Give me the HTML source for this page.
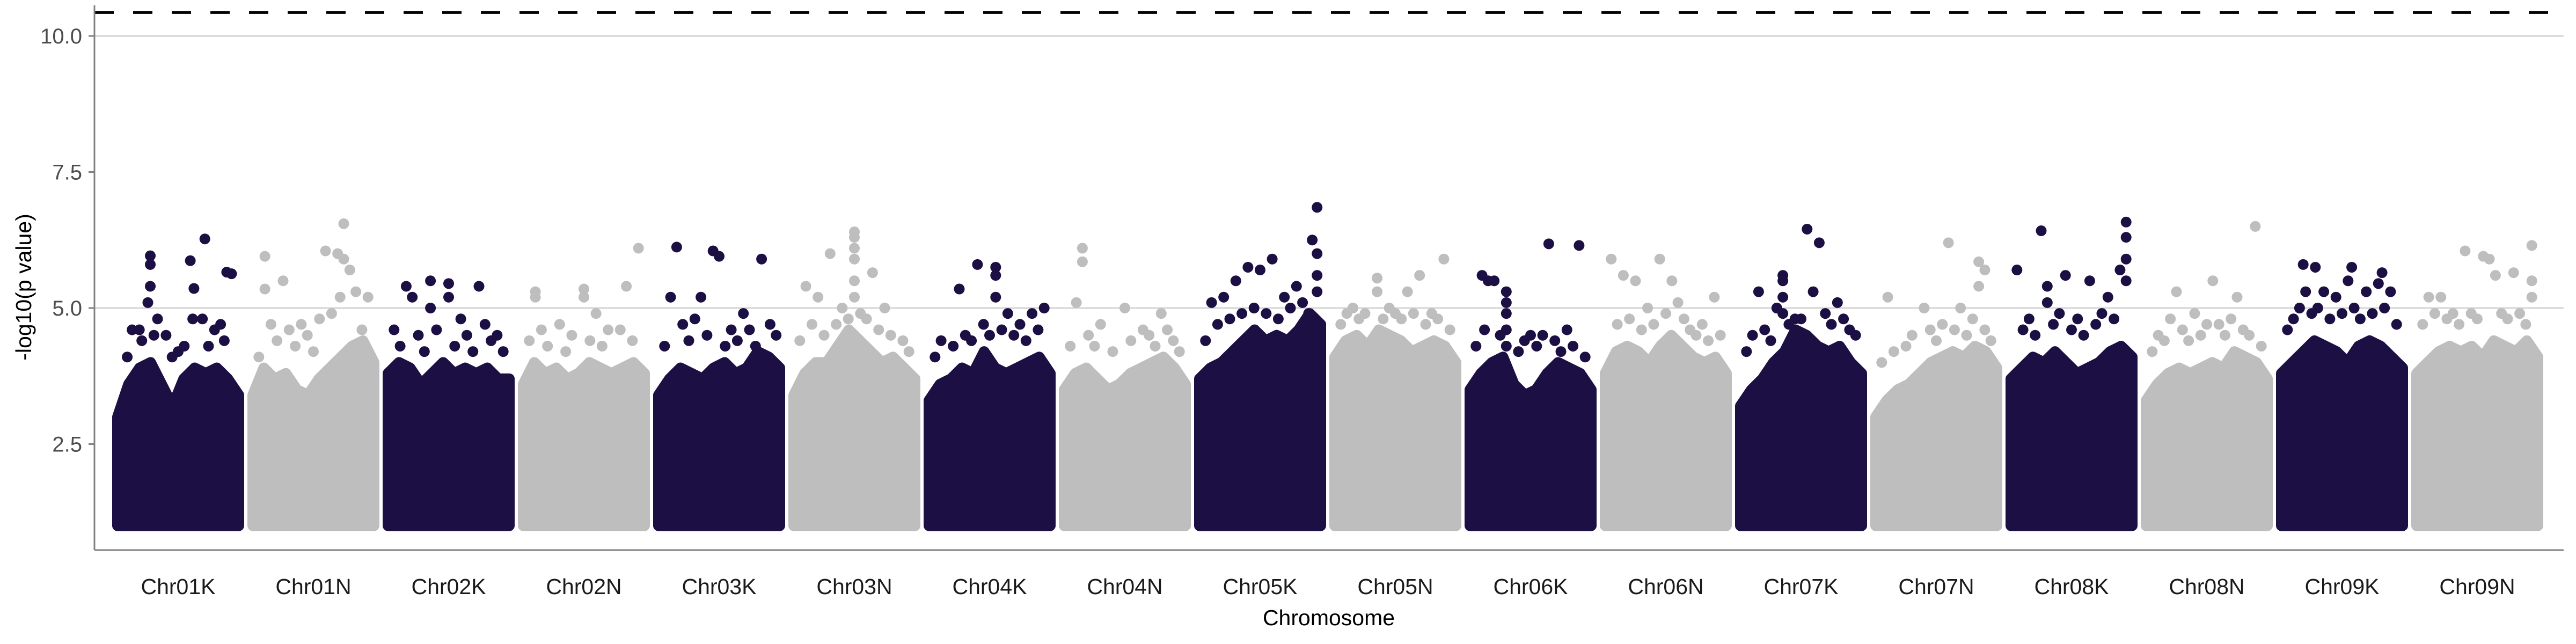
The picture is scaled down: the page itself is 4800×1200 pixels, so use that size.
<!DOCTYPE html>
<html><head><meta charset="utf-8"><title>Manhattan plot</title>
<style>
html,body{margin:0;padding:0;background:#fff;}
svg{display:block;font-family:"Liberation Sans",sans-serif;}
</style></head>
<body>
<svg id="chart" width="4800" height="1200" viewBox="0 0 4800 1200" xmlns="http://www.w3.org/2000/svg">
  <g id="grid"></g>
  <g id="bodies"></g>
  <g id="peaks"></g>
  <g id="axes"></g>
  <text x="2476" y="1165" font-size="41" fill="#000" text-anchor="middle">Chromosome</text>
  <text transform="translate(58,535) rotate(-90)" font-size="41" fill="#000" text-anchor="middle">-log10(p value)</text>
</svg>
<script>
const categories = ["Chr01K","Chr01N","Chr02K","Chr02N","Chr03K","Chr03N","Chr04K","Chr04N","Chr05K","Chr05N","Chr06K","Chr06N","Chr07K","Chr07N","Chr08K","Chr08N","Chr09K","Chr09N"];
const yTicks = [2.5, 5.0, 7.5, 10.0];
const yTickLabels = ["2.5","5.0","7.5","10.0"];
const gridValues = [5.0, 10.0];
const thresholdValue = 10.43;
const minValue = 1.0;
// dense body upper envelopes (12 bins per chromosome)
const envelopes = [
 [3.0,3.6,3.9,4.0,3.6,3.2,3.7,3.9,3.8,3.9,3.7,3.4],
 [3.4,3.9,3.7,3.8,3.5,3.4,3.7,3.9,4.1,4.3,4.4,4.0],
 [3.8,4.0,3.9,3.6,3.8,4.0,3.8,3.9,3.8,3.9,3.7,3.7],
 [3.6,4.0,3.8,3.9,3.7,3.8,4.0,3.9,3.8,3.9,4.0,3.8],
 [3.4,3.7,3.9,3.8,3.7,3.9,4.0,3.8,3.9,4.2,4.1,3.9],
 [3.4,3.8,4.0,4.0,4.3,4.6,4.4,4.2,4.0,4.1,3.9,3.7],
 [3.3,3.6,3.7,3.9,3.8,4.2,3.9,3.8,3.9,4.0,4.1,3.8],
 [3.5,3.8,3.9,3.7,3.5,3.6,3.8,3.9,4.0,4.1,3.9,3.6],
 [3.7,3.9,4.0,4.2,4.4,4.6,4.4,4.5,4.4,4.6,4.9,4.7],
 [4.1,4.4,4.5,4.3,4.6,4.5,4.4,4.2,4.3,4.4,4.3,4.0],
 [3.5,3.8,4.0,4.1,3.6,3.4,3.5,3.8,4.0,3.9,3.8,3.5],
 [3.8,4.2,4.3,4.2,4.0,4.3,4.5,4.3,4.1,4.0,4.1,3.8],
 [3.2,3.5,3.7,4.0,4.2,4.6,4.5,4.3,4.2,4.3,4.0,3.8],
 [3.0,3.3,3.5,3.6,3.8,4.0,4.1,4.2,4.1,4.3,4.2,3.9],
 [3.7,3.9,4.1,4.0,4.2,4.0,3.8,3.9,4.0,4.2,4.3,4.1],
 [3.3,3.6,3.8,3.9,3.8,3.9,4.0,3.9,4.2,4.1,4.0,3.7],
 [3.8,4.0,4.2,4.4,4.3,4.2,4.0,4.3,4.4,4.3,4.1,3.9],
 [3.8,4.0,4.2,4.3,4.2,4.3,4.1,4.4,4.3,4.2,4.4,4.1]
];
// top SNPs: [relative position within chromosome, -log10 p]
const peaks = [
 [[0.27,5.96],[0.27,5.8],[0.27,5.4],[0.25,5.1],[0.33,4.8],[0.12,4.6],[0.72,6.27],[0.6,5.87],[0.63,5.36],[0.9,5.66],[0.94,5.63],[0.7,4.8],[0.8,4.6],[0.5,4.2],[0.2,4.4],[0.4,4.5],[0.08,4.1],[0.18,4.6],[0.3,4.5],[0.55,4.3],[0.62,4.8],[0.85,4.7],[0.88,4.4],[0.45,4.1],[0.75,4.3]],
 [[0.1,5.95],[0.1,5.35],[0.25,5.5],[0.6,6.05],[0.75,6.55],[0.75,5.9],[0.8,5.7],[0.85,5.3],[0.4,4.7],[0.7,6.0],[0.95,5.2],[0.3,4.6],[0.55,4.8],[0.05,4.1],[0.15,4.7],[0.2,4.4],[0.35,4.3],[0.45,4.5],[0.65,4.9],[0.72,5.2],[0.9,4.6],[0.5,4.2]],
 [[0.15,5.4],[0.35,5.5],[0.5,5.45],[0.5,5.2],[0.75,5.4],[0.35,5.0],[0.6,4.8],[0.9,4.5],[0.2,5.2],[0.05,4.6],[0.8,4.7],[0.1,4.3],[0.25,4.5],[0.4,4.6],[0.55,4.3],[0.65,4.5],[0.7,4.2],[0.85,4.4],[0.95,4.2],[0.3,4.2]],
 [[0.1,5.3],[0.1,5.2],[0.5,5.35],[0.5,5.2],[0.95,6.1],[0.85,5.4],[0.6,4.9],[0.3,4.7],[0.7,4.6],[0.05,4.4],[0.15,4.6],[0.2,4.3],[0.4,4.5],[0.55,4.4],[0.65,4.3],[0.8,4.6],[0.9,4.4],[0.35,4.2]],
 [[0.15,6.12],[0.35,5.2],[0.45,6.05],[0.5,5.95],[0.85,5.9],[0.1,5.2],[0.7,4.9],[0.3,4.8],[0.6,4.6],[0.2,4.7],[0.05,4.3],[0.25,4.4],[0.4,4.5],[0.55,4.3],[0.65,4.4],[0.75,4.6],[0.8,4.3],[0.92,4.7],[0.97,4.5]],
 [[0.3,6.0],[0.5,6.4],[0.5,6.3],[0.5,6.1],[0.5,5.9],[0.65,5.65],[0.1,5.4],[0.4,5.0],[0.75,5.0],[0.2,5.2],[0.5,5.5],[0.5,5.2],[0.05,4.4],[0.15,4.7],[0.25,4.5],[0.35,4.7],[0.45,4.8],[0.55,4.9],[0.6,4.8],[0.7,4.6],[0.8,4.5],[0.9,4.4],[0.95,4.2]],
 [[0.4,5.8],[0.55,5.75],[0.55,5.6],[0.25,5.35],[0.95,5.0],[0.65,4.9],[0.85,4.9],[0.1,4.4],[0.55,5.2],[0.45,4.7],[0.05,4.1],[0.2,4.3],[0.3,4.5],[0.35,4.4],[0.6,4.6],[0.7,4.5],[0.75,4.7],[0.8,4.4],[0.9,4.6],[0.5,4.5]],
 [[0.15,6.1],[0.15,5.85],[0.1,5.1],[0.5,5.0],[0.8,4.9],[0.3,4.7],[0.65,4.6],[0.05,4.3],[0.2,4.5],[0.25,4.3],[0.4,4.2],[0.55,4.4],[0.7,4.5],[0.75,4.3],[0.85,4.6],[0.9,4.4],[0.95,4.2]],
 [[0.97,6.85],[0.93,6.25],[0.6,5.9],[0.4,5.75],[0.5,5.7],[0.3,5.5],[0.97,6.0],[0.97,5.6],[0.2,5.2],[0.1,5.1],[0.97,5.3],[0.7,5.2],[0.8,5.4],[0.05,4.4],[0.15,4.7],[0.25,4.8],[0.35,4.9],[0.45,5.0],[0.55,4.9],[0.65,4.8],[0.75,5.0],[0.85,5.1],[0.9,4.9]],
 [[0.35,5.55],[0.35,5.3],[0.9,5.9],[0.7,5.6],[0.15,5.0],[0.5,4.9],[0.6,5.3],[0.05,4.7],[0.1,4.9],[0.2,4.8],[0.25,4.9],[0.4,4.8],[0.45,5.0],[0.55,4.8],[0.65,4.9],[0.75,4.7],[0.8,4.9],[0.85,4.8],[0.95,4.6]],
 [[0.1,5.6],[0.15,5.5],[0.2,5.5],[0.3,5.3],[0.3,5.1],[0.65,6.18],[0.9,6.15],[0.3,4.9],[0.5,4.5],[0.8,4.6],[0.3,4.6],[0.3,4.3],[0.05,4.3],[0.12,4.6],[0.25,4.5],[0.4,4.2],[0.45,4.4],[0.55,4.3],[0.6,4.5],[0.7,4.4],[0.75,4.2],[0.85,4.3],[0.95,4.1]],
 [[0.05,5.9],[0.15,5.6],[0.25,5.5],[0.45,5.9],[0.55,5.5],[0.6,5.1],[0.9,5.2],[0.35,5.0],[0.1,4.7],[0.2,4.8],[0.3,4.6],[0.4,4.7],[0.5,4.9],[0.65,4.8],[0.7,4.6],[0.75,4.5],[0.8,4.7],[0.85,4.4],[0.95,4.5]],
 [[0.55,6.45],[0.65,6.2],[0.15,5.3],[0.35,5.6],[0.35,5.5],[0.3,5.0],[0.8,5.1],[0.45,4.8],[0.35,5.2],[0.35,4.9],[0.6,5.3],[0.05,4.2],[0.1,4.5],[0.2,4.6],[0.25,4.4],[0.4,4.7],[0.5,4.8],[0.7,4.9],[0.75,4.7],[0.85,4.8],[0.9,4.6],[0.95,4.5]],
 [[0.6,6.2],[0.85,5.85],[0.9,5.7],[0.85,5.4],[0.1,5.2],[0.4,5.0],[0.7,5.0],[0.05,4.0],[0.15,4.2],[0.25,4.3],[0.3,4.5],[0.45,4.6],[0.5,4.4],[0.55,4.7],[0.65,4.6],[0.75,4.5],[0.8,4.8],[0.9,4.6],[0.95,4.4]],
 [[0.25,6.42],[0.05,5.7],[0.3,5.4],[0.45,5.6],[0.95,6.58],[0.95,6.3],[0.9,5.7],[0.65,5.5],[0.8,5.2],[0.95,5.9],[0.95,5.5],[0.3,5.1],[0.1,4.6],[0.15,4.8],[0.2,4.5],[0.35,4.7],[0.4,4.9],[0.5,4.6],[0.55,4.8],[0.6,4.5],[0.7,4.7],[0.75,4.9],[0.85,4.8]],
 [[0.55,5.5],[0.25,5.3],[0.9,6.5],[0.75,5.2],[0.4,4.9],[0.6,4.7],[0.05,4.2],[0.1,4.5],[0.15,4.4],[0.2,4.8],[0.3,4.6],[0.35,4.4],[0.45,4.5],[0.5,4.7],[0.65,4.5],[0.7,4.8],[0.8,4.6],[0.85,4.5],[0.95,4.3]],
 [[0.18,5.8],[0.28,5.75],[0.58,5.75],[0.83,5.65],[0.35,5.3],[0.45,5.2],[0.55,5.5],[0.7,5.3],[0.9,5.3],[0.2,5.3],[0.8,5.45],[0.05,4.6],[0.1,4.8],[0.15,5.0],[0.25,4.9],[0.3,5.0],[0.4,4.8],[0.5,4.9],[0.6,5.0],[0.65,4.8],[0.75,4.9],[0.85,5.0],[0.95,4.7]],
 [[0.4,6.05],[0.55,5.95],[0.6,5.9],[0.95,6.15],[0.65,5.6],[0.8,5.65],[0.1,5.2],[0.2,5.2],[0.95,5.5],[0.95,5.2],[0.05,4.7],[0.15,4.9],[0.25,4.8],[0.3,4.9],[0.35,4.7],[0.45,4.9],[0.5,4.8],[0.7,4.9],[0.75,4.8],[0.85,4.9],[0.9,4.7]]
];
const colorA = "#1c0f43", colorB = "#bebebe";
const NS = "http://www.w3.org/2000/svg";
const plotLeft = 176, plotRight = 4777, plotBottom = 1025;
function yScale(v){ return 67 + (10 - v) * 101.4; }
function bandCenter(i){ return 332 + 252 * i; }
function xScale(i, f){ return bandCenter(i) - 113 + f * 226; }
function mk(tag, attrs, parent){ const e=document.createElementNS(NS,tag); for(const k in attrs) e.setAttribute(k,attrs[k]); parent.appendChild(e); return e; }

const grid = document.getElementById('grid');
gridValues.forEach(v=>{
  const l = mk('line',{x1:plotLeft,x2:plotRight,y1:yScale(v),y2:yScale(v),stroke:'#d4d4d4','stroke-width':3},grid);
  
  
});

const bodies = document.getElementById('bodies');
const peaksG = document.getElementById('peaks');
categories.forEach((c,i)=>{
  const col = i%2===0 ? colorA : colorB;
  const env = envelopes[i];
  let d = `M${xScale(i,0)},${yScale(minValue)}`;
  env.forEach((v,b)=>{
    d += ` L${xScale(i,b/(env.length-1))},${yScale(v)}`;
  });
  d += ` L${xScale(i,1)},${yScale(minValue)} Z`;
  const p = mk('path',{d:d,fill:col,stroke:col,'stroke-width':20,'stroke-linejoin':'round'},bodies);
  
  
  peaks[i].forEach(pt=>{
    const ci = mk('circle',{cx:xScale(i,pt[0]),cy:yScale(pt[1]),r:10,fill:col},peaksG);
    
    
  });
});

const axes = document.getElementById('axes');
const thr = mk('line',{x1:plotLeft,x2:plotRight,y1:yScale(thresholdValue),y2:yScale(thresholdValue),stroke:'#000','stroke-width':5,'stroke-dasharray':'36 36'},axes);


const yl = mk('line',{x1:plotLeft,x2:plotLeft,y1:10,y2:plotBottom,stroke:'#808080','stroke-width':3},axes);


const xl = mk('line',{x1:plotLeft,x2:plotRight,y1:plotBottom,y2:plotBottom,stroke:'#808080','stroke-width':3},axes);


yTicks.forEach((v,k)=>{
  const t = mk('line',{x1:165,x2:plotLeft,y1:yScale(v),y2:yScale(v),stroke:'#808080','stroke-width':3},axes);
  
  
  const tx = mk('text',{x:153,y:yScale(v)+14,'font-size':40,fill:'#4d4d4d','text-anchor':'end'},axes);
  tx.textContent = yTickLabels[k];
  
  
});
categories.forEach((c,i)=>{
  const tx = mk('text',{x:bandCenter(i),y:1107,'font-size':41,fill:'#1a1a1a','text-anchor':'middle'},axes);
  tx.textContent = c;
  
  
});
</script>
</body></html>
